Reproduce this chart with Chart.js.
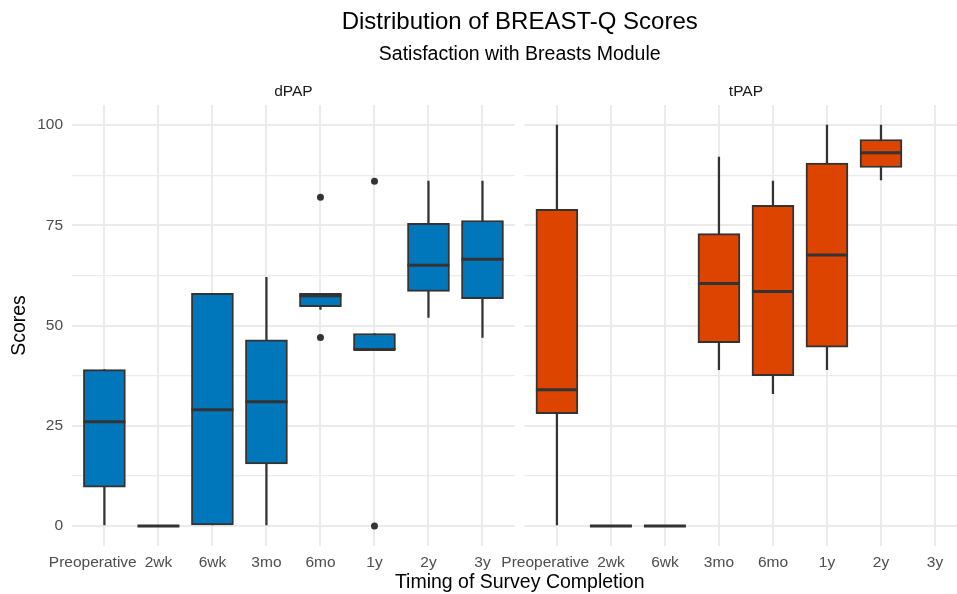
<!DOCTYPE html>
<html>
<head>
<meta charset="utf-8">
<title>Distribution of BREAST-Q Scores</title>
<script src="https://cdn.jsdelivr.net/npm/chart.js@4.4.1/dist/chart.umd.min.js"></script>
<style>
  html, body { margin: 0; padding: 0; background: #fff; overflow: hidden; }
  #wrap { width: 957px; height: 594px; overflow: hidden; }
</style>
</head>
<body>
<div id="wrap"><canvas id="boxChart" width="975" height="594"></canvas></div>
<script>
// Timing of survey completion (same for both panels)
const timepoints = ['Preoperative', '2wk', '6wk', '3mo', '6mo', '1y', '2y', '3y'];
const facets = ['dPAP', 'tPAP'];
const yTickValues = [0, 12.5, 25, 37.5, 50, 62.5, 75, 87.5, 100];

// dPAP: box summaries
const dpapLow      = [0, 0, 0, 0, 54, 44, 52, 47];
const dpapQ1       = [9.7, 0, 0, 15.5, 54.7, 44, 58.5, 56.7];
const dpapMedian   = [26, 0, 29, 31, 57.4, 44, 65, 66.5];
const dpapQ3       = [39, 0, 58, 46.4, 58, 48, 75.5, 76.2];
const dpapHigh     = [39, 0, 58, 62, 58, 48, 86, 86];
const dpapOutliers = [[], [], [], [], [82, 47], [86, 0], [], []];

// tPAP (no 3y data)
const tpapLow      = [0, 0, 0, 39, 33, 39, 86.3, null];
const tpapQ1       = [28, 0, 0, 45.7, 37.5, 44.6, 89.4, null];
const tpapMedian   = [34, 0, 0, 60.5, 58.5, 67.6, 93.1, null];
const tpapQ3       = [79, 0, 0, 72.9, 80, 90.5, 96.4, null];
const tpapHigh     = [100, 0, 0, 92, 86, 100, 100, null];
const tpapOutliers = [[], [], [], [], [], [], [], []];

const BOX_WIDTH = 42;        // px
const EXPAND = 0.6;          // ggplot discrete expansion
const FACET_GAP = 0.178;     // space between panels (category units)
const FACET_OFFSET = timepoints.length - 1 + 2 * EXPAND + FACET_GAP;
const FONT = '"Liberation Sans", Arial, sans-serif';

Chart.defaults.font.family = FONT;

const facetStats = [
  { low: dpapLow, q1: dpapQ1, median: dpapMedian, q3: dpapQ3, high: dpapHigh, outliers: dpapOutliers, fill: '#0077BB' },
  { low: tpapLow, q1: tpapQ1, median: tpapMedian, q3: tpapQ3, high: tpapHigh, outliers: tpapOutliers, fill: '#DD4400' }
];

const xPos = (f, i) => f * FACET_OFFSET + i;
const tickPositions = [];
facets.forEach((_, f) => timepoints.forEach((_, i) => tickPositions.push(xPos(f, i))));

const datasets = [];
facetStats.forEach((s, f) => {
  const idx = timepoints.map((_, i) => i).filter(i => s.median[i] !== null);
  // whiskers, drawn under the boxes
  datasets.push({
    type: 'bar', label: facets[f] + ' range', order: 2, grouped: false,
    data: idx.map(i => ({ x: xPos(f, i), y: [s.low[i], s.high[i]] })),
    backgroundColor: '#333333', borderWidth: 0, barThickness: 1.6
  });
  // boxes (Q1 - Q3)
  datasets.push({
    type: 'bar', label: facets[f], order: 1, grouped: false,
    data: idx.map(i => ({ x: xPos(f, i), y: [s.q1[i], s.q3[i]] })),
    backgroundColor: s.fill, borderColor: '#333333', borderWidth: 2,
    borderSkipped: false, barThickness: BOX_WIDTH
  });
  // outliers
  datasets.push({
    type: 'scatter', label: facets[f] + ' outliers', order: 0,
    data: idx.flatMap(i => s.outliers[i].map(v => ({ x: xPos(f, i), y: v }))),
    backgroundColor: '#333333', borderWidth: 0, pointRadius: 3.5
  });
});

// panel gap, median bars, titles and strip labels
const facetDecor = {
  id: 'facetDecor',
  beforeDatasetsDraw(chart) {
    const { ctx, chartArea, scales: { x } } = chart;
    const l = x.getPixelForValue(timepoints.length - 1 + EXPAND);
    const r = x.getPixelForValue(FACET_OFFSET - EXPAND);
    ctx.save();
    ctx.fillStyle = '#ffffff';
    ctx.fillRect(l, chartArea.top - 2, r - l, chartArea.bottom - chartArea.top + 4);
    ctx.restore();
  },
  afterDatasetsDraw(chart) {
    const { ctx, scales: { x, y } } = chart;
    ctx.save();
    ctx.strokeStyle = '#333333';
    ctx.lineWidth = 3;
    facetStats.forEach((s, f) => {
      s.median.forEach((m, i) => {
        if (m === null) return;
        const px = x.getPixelForValue(xPos(f, i));
        const py = y.getPixelForValue(m);
        ctx.beginPath();
        ctx.moveTo(px - BOX_WIDTH / 2, py);
        ctx.lineTo(px + BOX_WIDTH / 2, py);
        ctx.stroke();
      });
    });
    ctx.restore();
  },
  afterDraw(chart) {
    const { ctx, chartArea, scales: { x } } = chart;
    const cx = (chartArea.left + chartArea.right) / 2;
    ctx.save();
    ctx.textAlign = 'center';
    ctx.textBaseline = 'alphabetic';
    ctx.fillStyle = '#000000';
    ctx.font = '24px ' + FONT;
    ctx.fillText('Distribution of BREAST-Q Scores', cx, 28.5);
    ctx.font = '19.5px ' + FONT;
    ctx.fillText('Satisfaction with Breasts Module', cx, 59.5);
    ctx.fillStyle = '#1A1A1A';
    ctx.font = '15.5px ' + FONT;
    facets.forEach((name, f) => {
      ctx.fillText(name, x.getPixelForValue(xPos(f, (timepoints.length - 1) / 2)), 95.7);
    });
    ctx.restore();
  }
};

new Chart(document.getElementById('boxChart').getContext('2d'), {
  type: 'bar',
  data: { datasets: datasets },
  plugins: [facetDecor],
  options: {
    responsive: false,
    animation: false,
    layout: { padding: { top: 105, right: 7.6, bottom: 0, left: 0 } },
    plugins: {
      legend: { display: false },
      tooltip: { enabled: false }
    },
    scales: {
      x: {
        type: 'linear',
        bounds: 'data',
        min: -EXPAND,
        max: FACET_OFFSET + timepoints.length - 1 + EXPAND,
        offset: false,
        afterBuildTicks: sc => { sc.ticks = tickPositions.map(v => ({ value: v })); },
        afterFit: sc => { sc.height = 48; },
        grid: { color: '#EBEBEB', lineWidth: 2, drawTicks: false, offset: false },
        border: { display: false },
        ticks: {
          autoSkip: false, maxRotation: 0, minRotation: 0, padding: 7,
          color: '#4D4D4D', font: { size: 15.5 },
          // the long first label sits a little left of its tick in the original
          callback: (v, i) => {
            const t = timepoints[i % timepoints.length];
            return i % timepoints.length === 0 ? t + '\u2003\u2002' : t;
          }
        },
        title: { display: true, text: 'Timing of Survey Completion', color: '#000000', font: { size: 19.5 }, padding: 0 }
      },
      y: {
        type: 'linear',
        bounds: 'data',
        min: -5,
        max: 105,
        afterBuildTicks: sc => { sc.ticks = yTickValues.map(v => ({ value: v })); },
        afterFit: sc => { sc.width = 72; },
        grid: {
          color: '#EBEBEB', drawTicks: false,
          lineWidth: c => (c.tick && c.tick.value % 25 === 0) ? 2 : 1.2
        },
        border: { display: false },
        ticks: {
          padding: 9, color: '#4D4D4D', font: { size: 15.5 },
          callback: v => (v % 25 === 0 ? v : '')
        },
        title: { display: true, text: 'Scores', color: '#000000', font: { size: 19.5 }, padding: { top: 8, bottom: 0 } }
      }
    }
  }
});
</script>
</body>
</html>
